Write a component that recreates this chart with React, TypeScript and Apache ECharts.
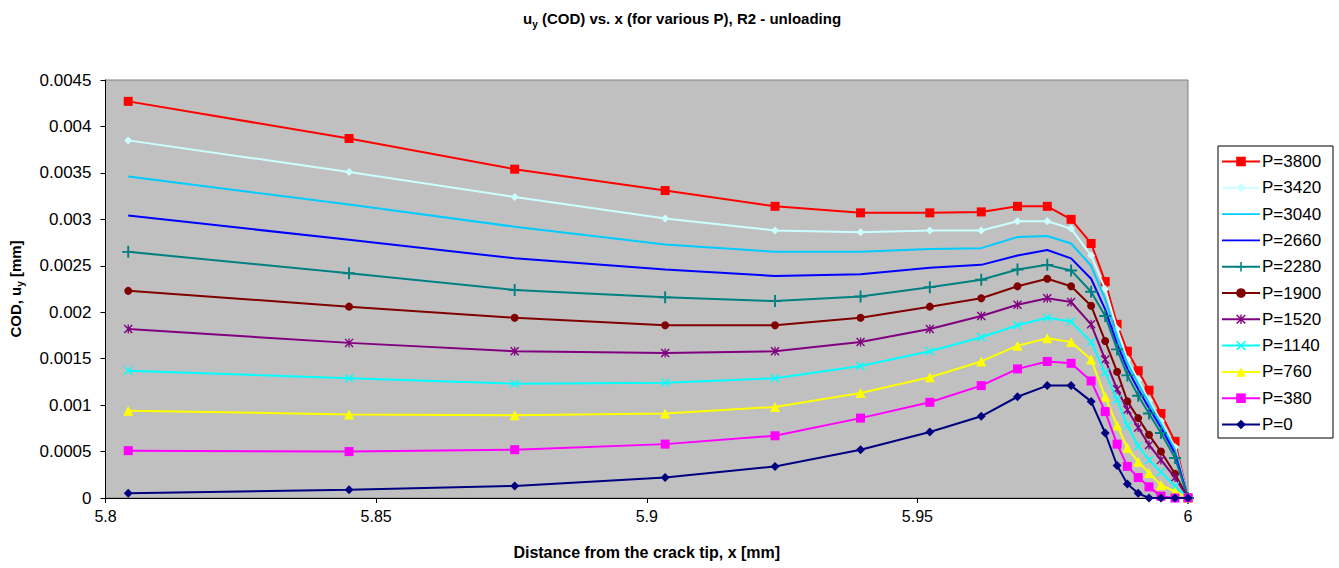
import React, { useEffect, useRef } from "react";
import * as echarts from "echarts";

// x positions of the mesh nodes, distance from the crack tip [mm]
const xNodes = [5.8042, 5.845, 5.8756, 5.9034, 5.9237, 5.9395, 5.9523, 5.9618, 5.9685, 5.974, 5.9784, 5.9821, 5.9847, 5.9869, 5.9888, 5.9908, 5.9928, 5.995, 5.9976, 6.0];

const p3800 = [0.00427, 0.00387, 0.00354, 0.00331, 0.00314, 0.00307, 0.00307, 0.00308, 0.00314, 0.00314, 0.0030, 0.00274, 0.00233, 0.00187, 0.00158, 0.00137, 0.00116, 0.00091, 0.00061, 0];
const p3420 = [0.00385, 0.00351, 0.00324, 0.00301, 0.00288, 0.00286, 0.00288, 0.00288, 0.00298, 0.00298, 0.0029, 0.00261, 0.00225, 0.00182, 0.00149, 0.00127, 0.00105, 0.00083, 0.00055, 0];
const p3040 = [0.00346, 0.00316, 0.00292, 0.00273, 0.00265, 0.00265, 0.00268, 0.00269, 0.00281, 0.00282, 0.00274, 0.0025, 0.00214, 0.00174, 0.00145, 0.00123, 0.00102, 0.0008, 0.00052, 0];
const p2660 = [0.00304, 0.00278, 0.00258, 0.00246, 0.00239, 0.00241, 0.00248, 0.00251, 0.00261, 0.00267, 0.00258, 0.00236, 0.00203, 0.00166, 0.00139, 0.00117, 0.00097, 0.00076, 0.00048, 0];
const p2280 = [0.00265, 0.00242, 0.00224, 0.00216, 0.00212, 0.00217, 0.00227, 0.00235, 0.00246, 0.00251, 0.00245, 0.00222, 0.00196, 0.0016, 0.00132, 0.0011, 0.00091, 0.0007, 0.00043, 0];
const p1900 = [0.00223, 0.00206, 0.00194, 0.00186, 0.00186, 0.00194, 0.00206, 0.00215, 0.00228, 0.00236, 0.00228, 0.00207, 0.00169, 0.00136, 0.00104, 0.00086, 0.00068, 0.0005, 0.00026, 0];
const p1520 = [0.00182, 0.00167, 0.00158, 0.00156, 0.00158, 0.00168, 0.00182, 0.00196, 0.00208, 0.00215, 0.00211, 0.00187, 0.00149, 0.00117, 0.00095, 0.00076, 0.00057, 0.00041, 0.00022, 0];
const p1140 = [0.00137, 0.00129, 0.00123, 0.00124, 0.00129, 0.00142, 0.00158, 0.00173, 0.00186, 0.00194, 0.0019, 0.00168, 0.00135, 0.00106, 0.00078, 0.00056, 0.00041, 0.00028, 0.00013, 0];
const p760 = [0.00094, 0.0009, 0.00089, 0.00091, 0.00098, 0.00113, 0.0013, 0.00147, 0.00164, 0.00172, 0.00168, 0.00149, 0.00109, 0.00078, 0.00054, 0.00039, 0.00027, 0.00014, 0.00007, 0];
const p380 = [0.00051, 0.0005, 0.00052, 0.00058, 0.00067, 0.00086, 0.00103, 0.00121, 0.00139, 0.00147, 0.00145, 0.00126, 0.00093, 0.00058, 0.00034, 0.00022, 0.00012, 0.00002, 0, 0];
const p0 = [0.00005, 0.00009, 0.00013, 0.00022, 0.00034, 0.00052, 0.00071, 0.00088, 0.00109, 0.00121, 0.00121, 0.00104, 0.0007, 0.00035, 0.00015, 0.00005, 0, 0, 0, 0];

const seriesNames = ["P=3800", "P=3420", "P=3040", "P=2660", "P=2280", "P=1900", "P=1520", "P=1140", "P=760", "P=380", "P=0"];
const seriesValues = [p3800, p3420, p3040, p2660, p2280, p1900, p1520, p1140, p760, p380, p0];

const xTickLabels = ["5.8", "5.85", "5.9", "5.95", "6"];

const PLUS = "path://M4.2,0 H5.8 V4.2 H10 V5.8 H5.8 V10 H4.2 V5.8 H0 V4.2 H4.2 Z";
const CROSS = "path://M0,1.1 L1.1,0 L5,3.9 L8.9,0 L10,1.1 L6.1,5 L10,8.9 L8.9,10 L5,6.1 L1.1,10 L0,8.9 L3.9,5 Z";
const STAR = "path://M0,1.1 L1.1,0 L5,3.9 L8.9,0 L10,1.1 L6.1,5 L10,8.9 L8.9,10 L5,6.1 L1.1,10 L0,8.9 L3.9,5 Z M4.3,0 H5.7 V10 H4.3 Z";
const LINE_ICON = "path://M0,4 H40 V6 H0 Z";

const styles = [
  { color: "#ff0000", symbol: "rect", size: 9 },
  { color: "#ccffff", symbol: "diamond", size: 8 },
  { color: "#00ccff", symbol: "none", size: 0 },
  { color: "#0000ff", symbol: "none", size: 0 },
  { color: "#008080", symbol: PLUS, size: 12 },
  { color: "#800000", symbol: "circle", size: 8 },
  { color: "#800080", symbol: STAR, size: 9 },
  { color: "#00ffff", symbol: CROSS, size: 9 },
  { color: "#ffff00", symbol: "triangle", size: 10 },
  { color: "#ff00ff", symbol: "rect", size: 9 },
  { color: "#000080", symbol: "diamond", size: 9 },
];

const FONT = "'Liberation Sans', Arial, sans-serif";

export default function App() {
  const ref = useRef<HTMLDivElement>(null);
  useEffect(() => {
    if (!ref.current) return;
    const chart = echarts.init(ref.current, undefined, { renderer: "svg" });
    const series = seriesNames.map((name, i) => ({
      name,
      type: "line",
      data: xNodes.map((x, j) => [x, seriesValues[i][j]]),
      symbol: styles[i].symbol,
      symbolSize: styles[i].size,
      showSymbol: styles[i].symbol !== "none",
      lineStyle: { color: styles[i].color, width: 2 },
      itemStyle: { color: styles[i].color, borderWidth: 0 },
      emphasis: { disabled: true },
      z: 2 + i * 0.01,
    }));
    chart.setOption({
      animation: false,
      backgroundColor: "#ffffff",
      textStyle: { fontFamily: FONT },
      title: {
        text: "{a|u}{s|y}{a| (COD) vs. x (for various P), R2 - unloading}",
        left: 518,
        top: 2,
        textStyle: {
          rich: {
            a: { fontFamily: FONT, fontWeight: "bold", fontSize: 15, color: "#000", lineHeight: 22 },
            s: { fontFamily: FONT, fontWeight: "bold", fontSize: 10, color: "#000", lineHeight: 13, verticalAlign: "bottom" },
          },
        },
      },
      grid: {
        left: 103,
        right: 151,
        top: 80,
        bottom: 70,
        show: true,
        backgroundColor: "#c0c0c0",
        borderColor: "#808080",
        borderWidth: 1,
      },
      graphic: [
        {
          type: "rect",
          shape: { x: 1218, y: 146, width: 115, height: 292 },
          style: { fill: "#ffffff", stroke: "#000000", lineWidth: 1 },
          z: 0,
        },
      ],
      legend: {
        orient: "vertical",
        left: 1221,
        top: 153,
        padding: 0,
        itemWidth: 38,
        itemHeight: 12,
        itemGap: 9.3,
        itemStyle: { borderWidth: 0 },
        textStyle: { fontFamily: FONT, fontSize: 17, color: "#000", padding: [0, 0, 0, -3] },
        data: seriesNames.map((name, i) =>
          styles[i].symbol === "none" ? { name, icon: LINE_ICON } : { name }
        ),
      },
      xAxis: {
        type: "value",
        min: 5.8,
        max: 6.0,
        interval: 0.05,
        name: "Distance from the crack tip, x [mm]",
        nameLocation: "middle",
        nameGap: 46,
        nameTextStyle: { fontFamily: FONT, fontWeight: "bold", fontSize: 16, color: "#000" },
        axisLine: { show: true, lineStyle: { color: "#000", width: 1 } },
        axisTick: { show: true, inside: false, length: 5, lineStyle: { color: "#000" } },
        axisLabel: {
          fontFamily: FONT,
          fontSize: 16,
          color: "#000",
          margin: 10,
          formatter: (v: number) => {
            const idx = Math.round((v - 5.8) / 0.05);
            return xTickLabels[idx] ?? String(v);
          },
        },
        splitLine: { show: false },
      },
      yAxis: {
        type: "value",
        min: 0,
        max: 0.0045,
        interval: 0.0005,
        name: "{a|COD, u}{s|y}{a| [mm]}",
        nameLocation: "middle",
        nameGap: 80,
        nameRotate: 90,
        nameTextStyle: {
          rich: {
            a: { fontFamily: FONT, fontWeight: "bold", fontSize: 15, color: "#000", lineHeight: 20 },
            s: { fontFamily: FONT, fontWeight: "bold", fontSize: 10, color: "#000", lineHeight: 12, verticalAlign: "bottom" },
          },
        },
        axisLine: { show: true, lineStyle: { color: "#000", width: 1 } },
        axisTick: { show: true, inside: false, length: 5, lineStyle: { color: "#000" } },
        axisLabel: {
          fontFamily: FONT,
          fontSize: 17,
          color: "#000",
          margin: 14,
          formatter: (v: number) => (v === 0 ? "0" : String(+v.toFixed(4))),
        },
        splitLine: { show: false },
      },
      series,
    });
    return () => chart.dispose();
  }, []);
  return (
    <div
      ref={ref}
      style={{ position: "fixed", left: 0, top: 0, width: 1339, height: 568, background: "#fff" }}
    />
  );
}
